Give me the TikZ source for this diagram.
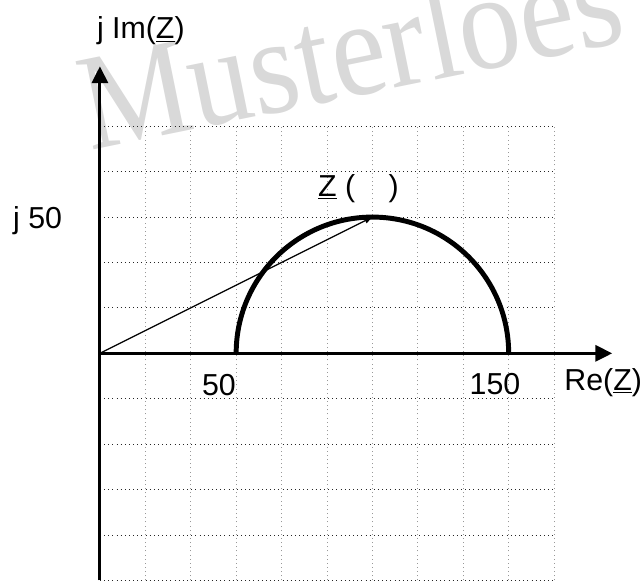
\documentclass[tikz,border=0pt]{standalone}
\usepackage{fontspec}
\setmainfont{Liberation Sans}
\newfontfamily\wmfont{Liberation Serif}
\usetikzlibrary{arrows.meta, positioning}
\tikzset{
  gridv/.style={draw=gray!80, line width=0.6pt, dotted},
  gridh/.style={draw=black!85, line width=0.6pt, dotted},
  axis/.style={line width=1.9pt, -{Triangle[length=10.5pt, width=10pt]}},
  locus/.style={line width=3.1pt},
  phasor/.style={line width=0.75pt, -{Triangle[length=5pt, width=3.5pt]}},
  lbl/.style={inner sep=0pt, font=\fontsize{19}{22}\selectfont},
  watermark/.style={inner sep=0pt, text=gray!30, rotate=11.5, xscale=0.9,
    font=\wmfont\fontsize{86}{96}\selectfont},
}

\begin{document}
\begin{tikzpicture}
  \useasboundingbox (-2.2,-5.02) rectangle (11.98,7.78);

  % Watermark
  \node[watermark, anchor=base west] (wm) at (-0.22,4.47) {Musterloes};

  % Grid
  \foreach \x in {1,...,10} \draw[gridv] (\x,-5) -- (\x,5);
  \foreach \y in {-5,...,5} \draw[gridh] (0,\y) -- (10,\y);

  % Axes
  \coordinate (O) at (0,0);
  \coordinate (ybot) at (0,-5);
  \coordinate (ytop) at (0,6.32);
  \coordinate (xend) at (11.28,0);
  \draw[axis] (ybot) -- (ytop);
  \draw[axis] (O) -- (xend);

  % Locus and phasor
  \coordinate (r50) at (3,0);
  \coordinate (r150) at (9,0);
  \coordinate (ztip) at (6,3);
  \draw[locus] (r50) arc[start angle=180, end angle=0, radius=3];
  \draw[phasor] (O) -- (ztip);

  % Labels
  \node[lbl, anchor=west] (imlbl) at (-0.07,7.1) {j Im(\underline{Z})};
  \node[lbl] (j50) at (-1.37,2.93) {j 50};
  \node[lbl, anchor=east] (re50) at (3.0,-0.7) {50};
  \node[lbl] (re150) at (8.7,-0.68) {150};
  \node[lbl, anchor=west] (relbl) at (10.22,-0.64) {Re(\underline{Z})};
  \node[lbl, anchor=west] (zlbl) at (4.8,3.63) {\underline{Z} (\hspace{1.1em})};
\end{tikzpicture}
\end{document}
